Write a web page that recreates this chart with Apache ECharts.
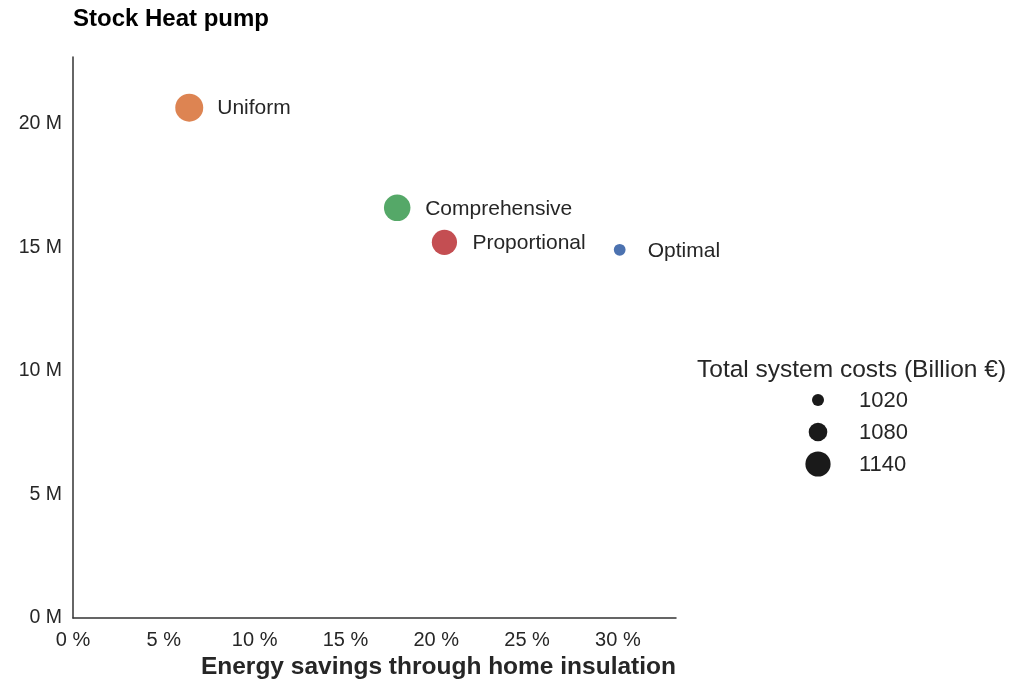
<!DOCTYPE html>
<html>
<head>
<meta charset="utf-8">
<script src="https://cdn.jsdelivr.net/npm/echarts@6/dist/echarts.min.js"></script>
<style>html,body{margin:0;padding:0;background:#fff}#c{width:1011px;height:683px}</style>
</head>
<body>
<div id="c"></div>
<script>
// Data
const scenarios = ['Optimal', 'Uniform', 'Comprehensive', 'Proportional'];
const savingsPct = [30.1, 6.4, 17.85, 20.45];      // x: energy savings (%)
const heatPumpsM = [14.9, 20.65, 16.6, 15.2];      // y: stock heat pump (millions)
const costsBn = [1018, 1165, 1152, 1140];          // total system costs (Billion €)
const colors = ['#4c72b0', '#dd8452', '#55a868', '#c44e52'];
const sizeLegendValues = [1020, 1080, 1140];
const xTicks = [0, 5, 10, 15, 20, 25, 30];
const yTicks = [0, 5, 10, 15, 20];

const FONT = '"Liberation Sans", Arial, sans-serif';
const TXT = '#262626';
const sizeOf = v => 12 + (v - 1020) * 0.11;

const chart = echarts.init(document.getElementById('c'), null, {renderer: 'canvas'});
chart.setOption({
  animation: false,
  backgroundColor: '#fff',
  textStyle: {fontFamily: FONT},
  title: [
    {text: 'Stock Heat pump', left: 68, top: 2,
     textStyle: {fontFamily: FONT, fontWeight: 'bold', fontSize: 24, color: '#000'}},
    {text: 'Total system costs (Billion €)', left: 692, top: 353,
     textStyle: {fontFamily: FONT, fontWeight: 'normal', fontSize: 24.5, color: TXT}}
  ],
  grid: [
    {left: 73, top: 57, right: 335, bottom: 65},
    {left: 798, top: 384, width: 40, height: 96}
  ],
  xAxis: [
    {type: 'value', gridIndex: 0, min: 0, max: 33.2, interval: 5,
     name: 'Energy savings through home insulation', nameLocation: 'end', nameGap: 0,
     nameTextStyle: {fontFamily: FONT, fontWeight: 'bold', fontSize: 24.5, color: TXT,
                     align: 'right', verticalAlign: 'top', padding: [37, 0, 0, 0]},
     axisLine: {show: true, lineStyle: {color: '#333', width: 1.5}},
     axisTick: {show: false}, splitLine: {show: false},
     axisLabel: {fontFamily: FONT, fontSize: 20, color: TXT, margin: 12,
                 formatter: v => xTicks.includes(Math.round(v * 1000) / 1000) ? v + ' %' : ''}},
    {type: 'value', gridIndex: 1, min: 0, max: 1, show: false}
  ],
  yAxis: [
    {type: 'value', gridIndex: 0, min: 0, max: 22.7, interval: 5,
     axisLine: {show: true, lineStyle: {color: '#333', width: 1.5}},
     axisTick: {show: false}, splitLine: {show: false},
     axisLabel: {fontFamily: FONT, fontSize: 19.5, color: TXT, margin: 11, padding: [4, 0, 0, 0],
                 formatter: v => yTicks.includes(Math.round(v * 1000) / 1000) ? v + ' M' : ''}},
    {type: 'category', gridIndex: 1, inverse: true, data: sizeLegendValues.map(String), show: false}
  ],
  series: [
    {
      type: 'scatter', xAxisIndex: 0, yAxisIndex: 0,
      data: scenarios.map((s, i) => ({
        name: s,
        value: [savingsPct[i], heatPumpsM[i], costsBn[i]],
        symbolSize: sizeOf(costsBn[i]),
        itemStyle: {color: colors[i], opacity: 1}
      })),
      label: {show: true, position: 'inside', align: 'left', verticalAlign: 'middle',
              offset: [28, 1], formatter: p => p.name,
              fontFamily: FONT, fontSize: 21, color: TXT}
    },
    {
      type: 'scatter', xAxisIndex: 1, yAxisIndex: 1,
      data: sizeLegendValues.map(v => ({value: [0.5, String(v)], symbolSize: sizeOf(v)})),
      itemStyle: {color: '#1a1a1a', opacity: 1},
      label: {show: true, position: 'inside', align: 'left', verticalAlign: 'middle',
              offset: [41, 1], formatter: p => p.value[1],
              fontFamily: FONT, fontSize: 22, color: TXT}
    }
  ]
});
</script>
</body>
</html>
